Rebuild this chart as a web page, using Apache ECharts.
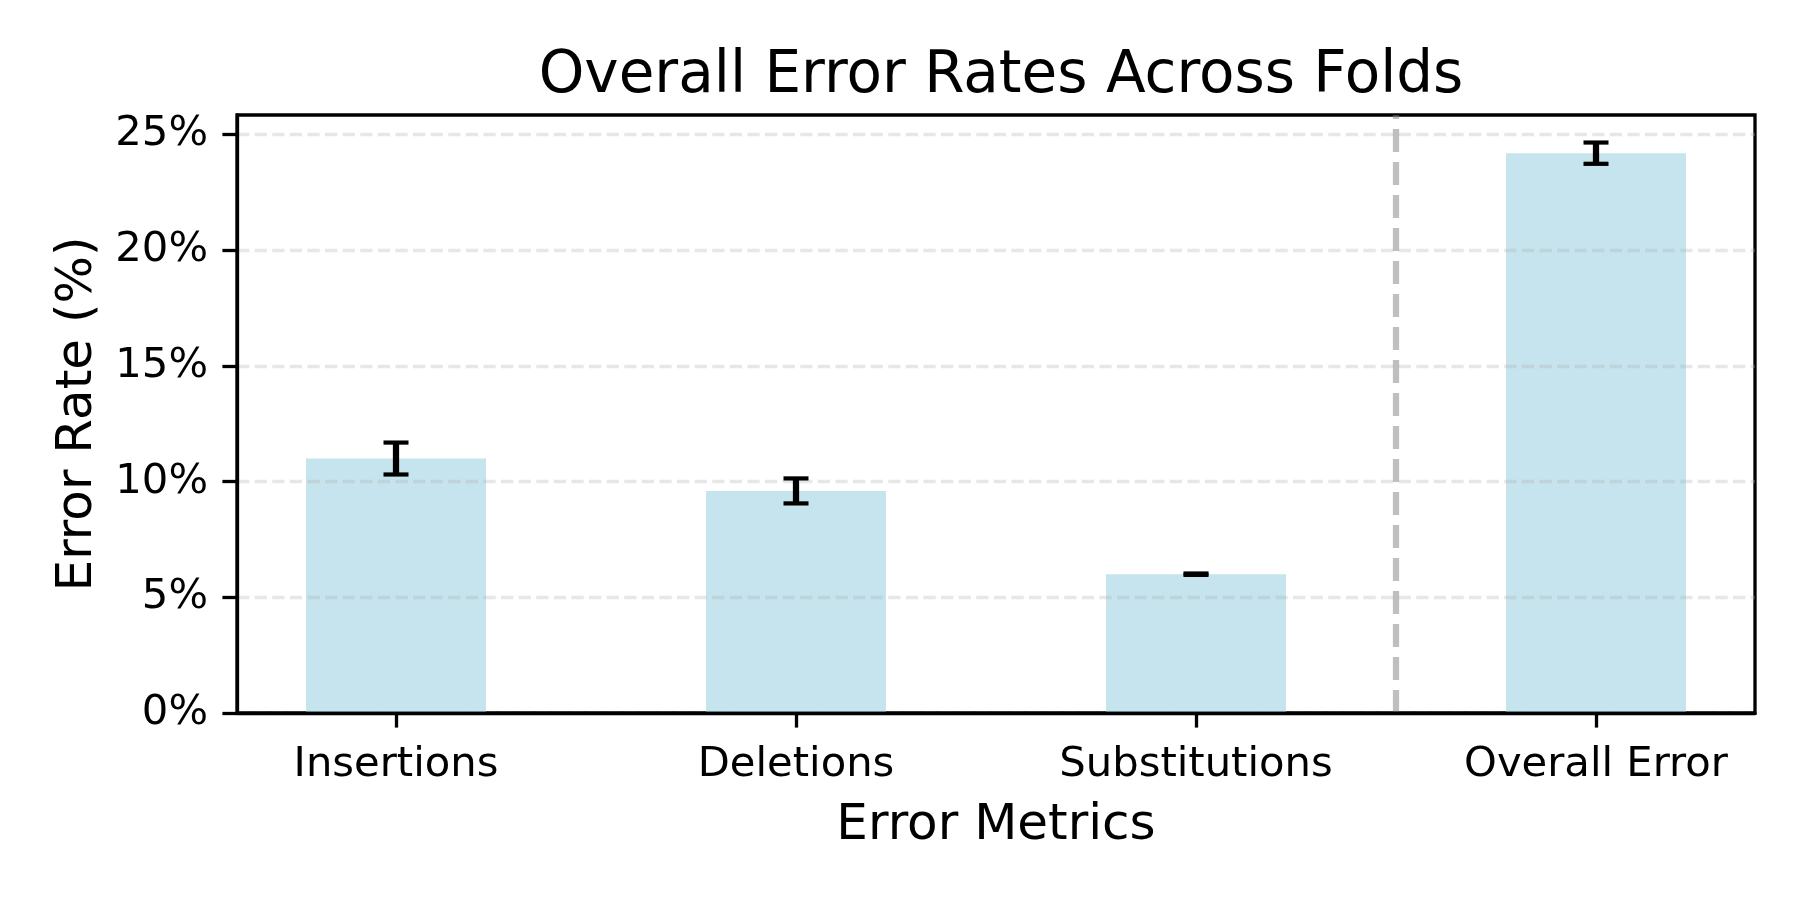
<!DOCTYPE html>
<html>
<head>
<meta charset="utf-8">
<script src="https://cdn.jsdelivr.net/npm/echarts@6/dist/echarts.min.js"></script>
<style>
html,body{margin:0;padding:0;background:#fff;}
#chart{width:1800px;height:900px;}
</style>
</head>
<body>
<div id="chart"></div>
<script>
const categories = ['Insertions', 'Deletions', 'Substitutions', 'Overall Error'];
const meanRates = [11.0, 9.6, 6.0, 24.2];
const errRates = [0.69, 0.54, 0.03, 0.46];
const yTicks = [0, 5, 10, 15, 20, 25];
const separatorAt = 2.5;

const FONT = 'DejaVu Sans';
const chart = echarts.init(document.getElementById('chart'), null, {renderer: 'canvas'});

const barData = categories.map((c, i) => [i, meanRates[i]]);
const errData = categories.map((c, i) => [i, meanRates[i], errRates[i]]);

chart.setOption({
  backgroundColor: '#ffffff',
  animation: false,
  textStyle: {fontFamily: FONT, color: '#000'},
  title: {
    text: 'Overall Error Rates Across Folds',
    left: 996, top: 43, textAlign: 'center',
    textStyle: {fontFamily: FONT, fontSize: 58, fontWeight: 'normal', color: '#000'}
  },
  grid: {
    left: 237, right: 45, top: 115, bottom: 187,
    show: true, borderColor: '#000', borderWidth: 3.3, backgroundColor: 'transparent'
  },
  xAxis: {
    type: 'value', min: -0.3975, max: 3.3975, z: 6,
    name: 'Error Metrics', nameLocation: 'middle', nameGap: 88,
    nameTextStyle: {fontFamily: FONT, fontSize: 50, color: '#000'},
    axisLine: {show: true, onZero: false, lineStyle: {color: '#000', width: 3.3}},
    axisTick: {show: true, length: 14.6, lineStyle: {color: '#000', width: 3.3}, customValues: [0, 1, 2, 3]},
    axisLabel: {
      fontFamily: FONT, fontSize: 41.7, color: '#000', margin: 31,
      customValues: [0, 1, 2, 3],
      formatter: v => categories[Math.round(v)] || ''
    },
    splitLine: {show: false}
  },
  yAxis: {
    type: 'value', min: 0, max: 25.85, interval: 5, z: 5,
    name: 'Error Rate (%)', nameLocation: 'middle', nameGap: 134, nameRotate: 90,
    nameTextStyle: {fontFamily: FONT, fontSize: 50, color: '#000'},
    axisLine: {show: true, onZero: false, lineStyle: {color: '#000', width: 3.3}},
    axisTick: {show: true, length: 14.6, lineStyle: {color: '#000', width: 3.3}, customValues: yTicks},
    axisLabel: {fontFamily: FONT, fontSize: 41.7, color: '#000', margin: 29, customValues: yTicks, formatter: '{value}%', showMaxLabel: true},
    splitLine: {show: true, lineStyle: {color: 'rgba(176,176,176,0.3)', width: 3.3, type: [12.3, 5.3]}}
  },
  series: [
    {
      type: 'bar', data: barData, barWidth: 180, z: 2,
      itemStyle: {color: 'rgba(173,216,230,0.7)'},
      markLine: {
        symbol: 'none', silent: true, label: {show: false},
        lineStyle: {color: 'rgba(128,128,128,0.5)', width: 6.25, type: [23, 10]},
        data: [{xAxis: separatorAt}]
      }
    },
    {
      type: 'custom', data: errData, z: 10,
      encode: {x: 0, y: [1, 2]},
      renderItem: function (params, api) {
        const x = api.value(0), m = api.value(1), e = api.value(2);
        const top = api.coord([x, m + e]);
        const bot = api.coord([x, m - e]);
        const cw = 12.5;
        return {
          type: 'group',
          children: [
            {type: 'line', shape: {x1: top[0], y1: top[1], x2: bot[0], y2: bot[1]}, style: {stroke: '#000', lineWidth: 6.25}},
            {type: 'line', shape: {x1: top[0] - cw, y1: top[1], x2: top[0] + cw, y2: top[1]}, style: {stroke: '#000', lineWidth: 4.2}},
            {type: 'line', shape: {x1: bot[0] - cw, y1: bot[1], x2: bot[0] + cw, y2: bot[1]}, style: {stroke: '#000', lineWidth: 4.2}}
          ]
        };
      }
    }
  ]
});
</script>
</body>
</html>
